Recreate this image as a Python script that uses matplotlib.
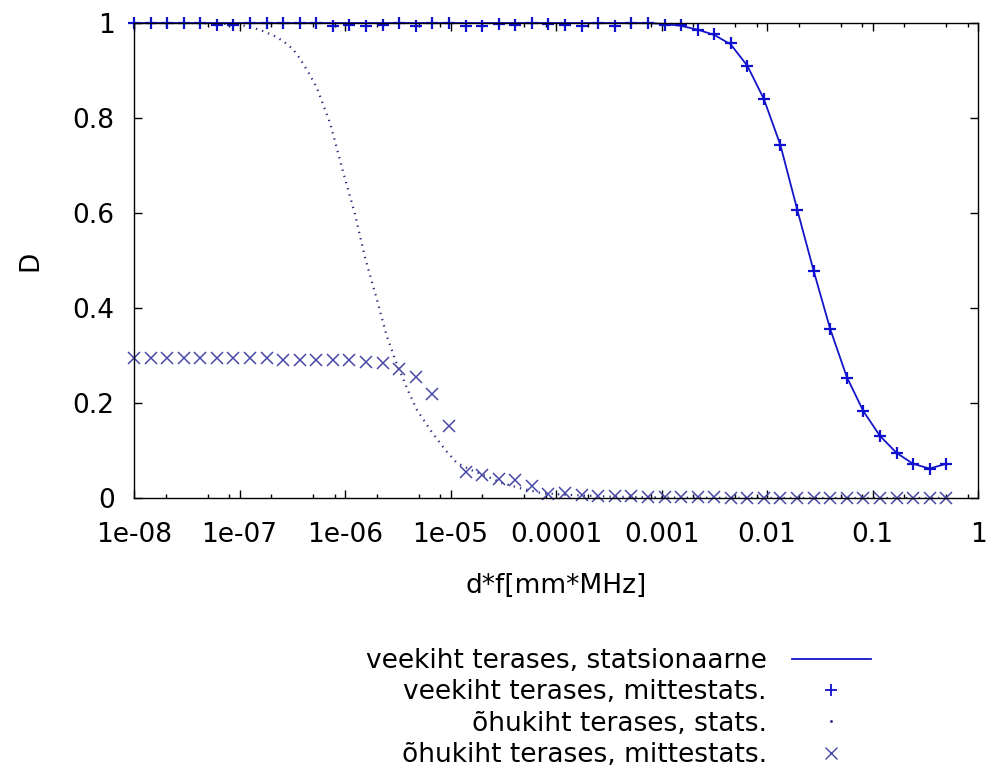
import matplotlib
matplotlib.use("Agg")
from matplotlib import pyplot as plt
from matplotlib.lines import Line2D
from matplotlib.ticker import LogLocator, FixedLocator, NullFormatter

# shared x grid of the non-stationary runs, d*f [mm*MHz]
x_grid = [
	1.00e-8, 1.436e-8, 2.06e-8, 2.96e-8, 4.25e-8, 6.10e-8, 8.76e-8, 1.26e-7, 1.81e-7, 2.60e-7,
	3.73e-7, 5.35e-7, 7.68e-7, 1.10e-6, 1.58e-6, 2.28e-6, 3.27e-6, 4.69e-6, 6.73e-6, 9.67e-6,
	1.39e-5, 1.99e-5, 2.86e-5, 4.11e-5, 5.90e-5, 8.47e-5, 1.22e-4, 1.75e-4, 2.51e-4, 3.60e-4,
	5.17e-4, 7.42e-4, 1.07e-3, 1.53e-3, 2.20e-3, 3.16e-3, 4.53e-3, 6.51e-3, 9.34e-3, 1.34e-2,
	1.93e-2, 2.77e-2, 3.97e-2, 5.70e-2, 8.18e-2, 0.1175, 0.169, 0.242, 0.348, 0.500,
]

# veekiht terases, statsionaarne
water_stat = [
	1.0, 1.0, 1.0, 1.0, 1.0, 1.0, 1.0, 1.0, 1.0, 1.0,
	1.0, 1.0, 1.0, 1.0, 1.0, 1.0, 1.0, 1.0, 1.0, 1.0,
	1.0, 1.0, 1.0, 1.0, 1.0, 1.0, 1.0, 1.0, 1.0, 1.0,
	1.0, 1.0, 0.998, 0.994, 0.986, 0.975, 0.955, 0.910, 0.840, 0.743,
	0.608, 0.478, 0.356, 0.255, 0.183, 0.131, 0.095, 0.072, 0.062, 0.072,
]

# veekiht terases, mittestats.
water_nonstat = [
	1.0, 1.0, 1.0, 1.0, 1.0, 0.996, 0.996, 1.0, 1.0, 1.0,
	1.0, 1.0, 0.993, 0.996, 0.993, 0.995, 1.0, 0.993, 1.0, 1.0,
	0.993, 0.993, 0.997, 0.996, 1.0, 0.997, 0.996, 0.993, 1.0, 0.993,
	1.0, 1.0, 0.996, 0.996, 0.986, 0.977, 0.957, 0.910, 0.840, 0.743,
	0.606, 0.478, 0.356, 0.253, 0.183, 0.131, 0.095, 0.072, 0.061, 0.072,
]

# õhukiht terases, mittestats.
air_nonstat = [
	0.294, 0.294, 0.294, 0.294, 0.294, 0.294, 0.294, 0.294, 0.294, 0.290,
	0.290, 0.290, 0.290, 0.290, 0.287, 0.285, 0.271, 0.254, 0.219, 0.152,
	0.055, 0.048, 0.041, 0.038, 0.025, 0.008, 0.010, 0.007, 0.005, 0.005,
	0.005, 0.003, 0.003, 0.003, 0.002, 0.002, 0.001, 0.001, 0.001, 0.001,
	0.001, 0.001, 0.001, 0.001, 0.001, 0.001, 0.001, 0.001, 0.001, 0.001,
]

# õhukiht terases, stats. (dotted curve)
air_stat_x = [
	1.0e-8, 3.16e-8, 6.31e-8, 1.0e-7, 1.26e-7, 1.58e-7, 2.09e-7, 2.60e-7, 3.24e-7, 3.74e-7,
	4.47e-7, 5.40e-7, 6.46e-7, 7.21e-7, 9.64e-7, 1.245e-6, 1.55e-6, 2.0e-6, 2.48e-6, 3.09e-6,
	3.98e-6, 4.79e-6, 6.40e-6, 8.87e-6, 1.146e-5, 1.53e-5, 2.37e-5, 3.16e-5, 4.90e-5, 7.05e-5,
	1.17e-4, 3.16e-4, 1.0e-3, 1.0e-2, 0.5,
]
air_stat = [
	1.0, 1.0, 0.999, 0.996, 0.992, 0.985, 0.974, 0.962, 0.944, 0.925,
	0.897, 0.864, 0.818, 0.790, 0.685, 0.597, 0.506, 0.419, 0.342, 0.283,
	0.225, 0.186, 0.144, 0.102, 0.074, 0.060, 0.0425, 0.0305, 0.019, 0.011,
	0.007, 0.003, 0.001, 0.0, 0.0,
]

labels = [
	"veekiht terases, statsionaarne",
	"veekiht terases, mittestats.",
	"õhukiht terases, stats.",
	"õhukiht terases, mittestats.",
]
y_ticks = [0, 0.2, 0.4, 0.6, 0.8, 1]
x_ticks = [1e-8, 1e-7, 1e-6, 1e-5, 1e-4, 1e-3, 1e-2, 1e-1, 1]
x_tick_labels = ["1e-08", "1e-07", "1e-06", "1e-05", "0.0001", "0.001", "0.01", "0.1", "1"]


def main():
	plt.rcParams["font.family"] = ["DejaVu Sans"]
	plt.rcParams["font.size"] = 19

	fig = plt.figure(figsize=(9.88, 7.73), dpi=100)
	ax = fig.add_axes([134 / 988, 1 - 498 / 773, (978 - 134) / 988, (498 - 23) / 773])

	line_col = "#1414c8"
	ax.plot(x_grid, water_stat, color=line_col, lw=1.3, zorder=3, clip_on=False)
	ax.plot(x_grid, water_nonstat, ls="none", marker="+", ms=9, mew=1.6, color="#1010d0", zorder=4, clip_on=False)
	ax.plot(air_stat_x, air_stat, ls=(0, (0.6, 2.3)), lw=1.6, color="#2a2a80", zorder=2)
	ax.plot(x_grid, air_nonstat, ls="none", marker="x", ms=8, mew=1.1, color="#4848a8", zorder=4, clip_on=False)

	ax.set_xscale("log")
	ax.set_xlim(1e-8, 1)
	ax.set_ylim(0, 1)
	ax.xaxis.set_major_locator(FixedLocator(x_ticks))
	ax.set_xticklabels(x_tick_labels)
	ax.xaxis.set_minor_locator(LogLocator(base=10, subs=[2, 5, 8], numticks=20))
	ax.xaxis.set_minor_formatter(NullFormatter())
	ax.set_yticks(y_ticks)
	ax.set_yticklabels(["0", "0.2", "0.4", "0.6", "0.8", "1"])

	ax.tick_params(which="both", direction="in", top=True, right=True, color="black", width=1.0)
	ax.tick_params(which="major", length=6)
	ax.tick_params(which="minor", length=3)
	ax.tick_params(axis="x", which="major", pad=17)
	ax.tick_params(axis="y", pad=14)
	for spine in ax.spines.values():
		spine.set_linewidth(1.0)
		spine.set_zorder(5)

	ax.set_xlabel("d*f[mm*MHz]", labelpad=18)
	ax.set_ylabel("D", labelpad=21)

	handles = [
		Line2D([], [], color=line_col, lw=1.3),
		Line2D([], [], ls="none", marker="+", ms=9, mew=1.3, color="#1010d0"),
		Line2D([], [], ls="none", marker=".", ms=2, color="#2a2a80"),
		Line2D([], [], ls="none", marker="x", ms=8, mew=1.0, color="#4848a8"),
	]
	fig.legend(handles, labels, loc="upper right", bbox_to_anchor=(871 / 988, 1 - 648 / 773),
		bbox_transform=fig.transFigure, markerfirst=False, frameon=False, borderpad=0,
		borderaxespad=0, handlelength=3, handletextpad=0.95, labelspacing=0.2)

	fig.savefig("out.png", dpi=100)
	plt.close(fig)


if __name__ == "__main__":
	main()
